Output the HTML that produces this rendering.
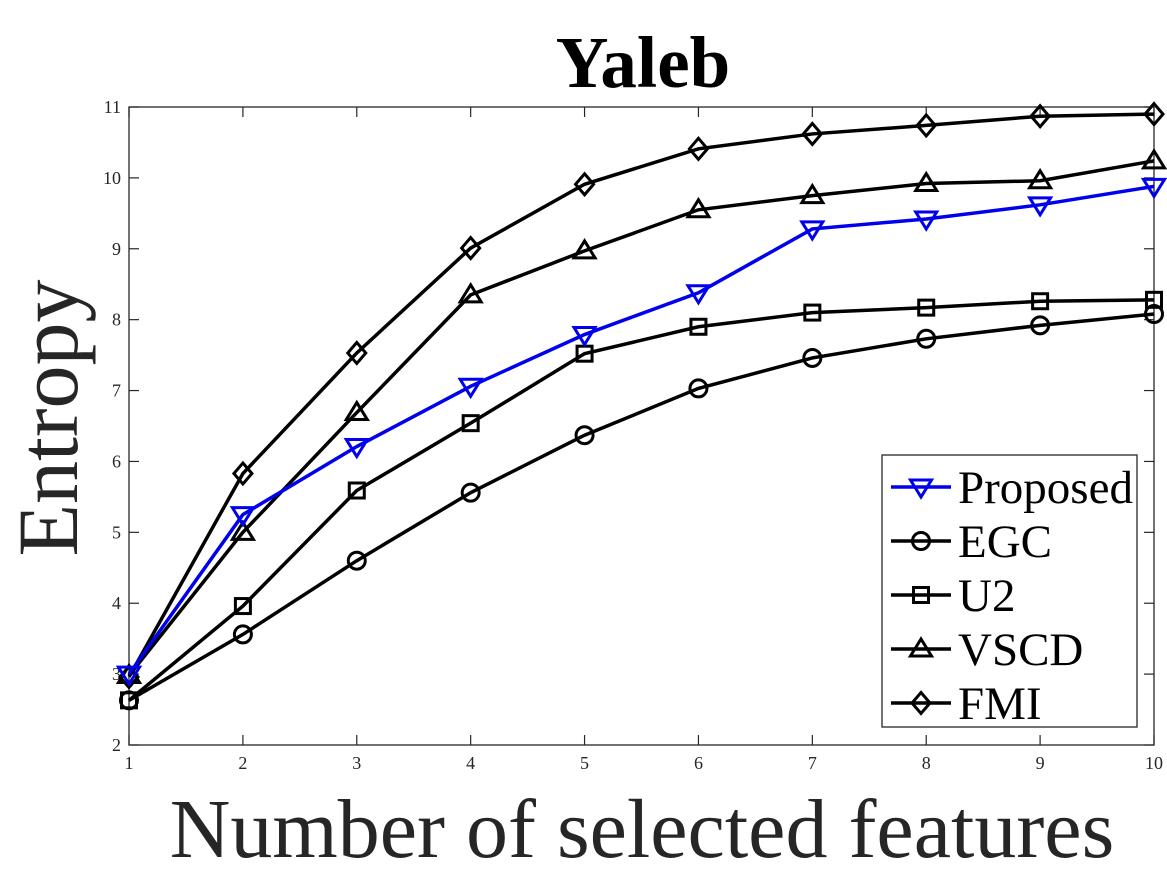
<!DOCTYPE html>
<html><head><meta charset="utf-8"><style>
body{margin:0;background:#fff;}
svg{display:block;font-family:"Liberation Serif",serif;}
</style></head><body>
<svg id="chart" width="1167" height="875" viewBox="0 0 1167 875" xmlns="http://www.w3.org/2000/svg">
<rect width="1167" height="875" fill="#fff"/>
<text x="643" y="87" text-anchor="middle" font-size="73" font-weight="bold">Yaleb</text>
<text transform="translate(77,418) rotate(-90)" text-anchor="middle" font-size="86" fill="#262626">Entropy</text>
<text x="642" y="857" text-anchor="middle" font-size="84" fill="#262626">Number of selected features</text>
<g id="axes"></g>
<g id="series"></g>
<g id="legend"></g>
</svg>
<script>
const categories=[1,2,3,4,5,6,7,8,9,10];
const yTicks=[2,3,4,5,6,7,8,9,10,11];
const seriesNames=["Proposed","EGC","U2","VSCD","FMI"];
const proposed=[3.0,5.25,6.21,7.06,7.79,8.38,9.28,9.42,9.62,9.88];
const egc=[2.63,3.56,4.6,5.56,6.37,7.03,7.46,7.73,7.92,8.08];
const u2=[2.63,3.96,5.59,6.54,7.52,7.9,8.1,8.17,8.26,8.28];
const vscd=[2.98,5.0,6.69,8.35,8.97,9.55,9.75,9.92,9.96,10.24];
const fmi=[2.96,5.83,7.53,9.01,9.91,10.41,10.62,10.74,10.87,10.9];
const L=129,R=1154,T=107,B=745;
const xS=v=>L+(v-1)/9*(R-L);
const yS=v=>B-(v-2)/9*(B-T);
const NS="http://www.w3.org/2000/svg";
function mk(tag,attrs,parent){const e=document.createElementNS(NS,tag);for(const k in attrs)e.setAttribute(k,attrs[k]);parent.appendChild(e);return e;}
const axes=document.getElementById('axes');
const frame=mk('rect',{x:L,y:T,width:R-L,height:B-T,fill:'none',stroke:'#262626','stroke-width':1.3},axes);


categories.forEach(c=>{
  const x=xS(c);
  mk('line',{x1:x,y1:B,x2:x,y2:B-10,stroke:'#262626','stroke-width':1.2},axes);
  mk('line',{x1:x,y1:T,x2:x,y2:T+10,stroke:'#262626','stroke-width':1.2},axes);
  const t=mk('text',{x:x,y:B+24,'text-anchor':'middle','font-size':18,fill:'#262626'},axes);
  t.textContent=c;
  
  
});
yTicks.forEach(v=>{
  const y=yS(v);
  mk('line',{x1:L,y1:y,x2:L+10,y2:y,stroke:'#262626','stroke-width':1.2},axes);
  mk('line',{x1:R,y1:y,x2:R-10,y2:y,stroke:'#262626','stroke-width':1.2},axes);
  const t=mk('text',{x:L-8,y:y+6,'text-anchor':'end','font-size':18,fill:'#262626'},axes);
  t.textContent=v;
  
  
});
function marker(type,cx,cy,color,parent){
  const st={fill:'none',stroke:color,'stroke-width':3};
  let e;
  if(type==='circle'){e=mk('circle',Object.assign({cx:cx,cy:cy,r:8.5},st),parent);}
  else if(type==='square'){e=mk('rect',Object.assign({x:cx-7.5,y:cy-7.5,width:15,height:15},st),parent);}
  else if(type==='tri'){e=mk('polygon',Object.assign({points:`${cx},${cy-10} ${cx-10.5},${cy+7} ${cx+10.5},${cy+7}`},st),parent);}
  else if(type==='dtri'){e=mk('polygon',Object.assign({points:`${cx},${cy+10} ${cx-10.5},${cy-7} ${cx+10.5},${cy-7}`},st),parent);}
  else {e=mk('polygon',Object.assign({points:`${cx},${cy-10.5} ${cx+9},${cy} ${cx},${cy+10.5} ${cx-9},${cy}`},st),parent);}
  return e;
}
const defs=[[fmi,'diamond','#000','fmi'],[vscd,'tri','#000','vscd'],[u2,'square','#000','u2'],[egc,'circle','#000','egc'],[proposed,'dtri','#0000ee','proposed']];
const sg=document.getElementById('series');
defs.forEach(([d,m,c,n])=>{
  const g=mk('g',{},sg);
  
  
  const pts=d.map((v,i)=>xS(categories[i])+','+yS(v)).join(' ');
  const pl=mk('polyline',{points:pts,fill:'none',stroke:c,'stroke-width':3.5},g);
  
  
  d.forEach((v,i)=>{
    const mm=marker(m,xS(categories[i]),yS(v),c,g);
    
    
  });
});
const lg=document.getElementById('legend');


mk('rect',{x:882,y:455,width:255,height:272,fill:'#fff',stroke:'#262626','stroke-width':1.3},lg);
const lm=['dtri','circle','square','tri','diamond'];
const lc=['#0000ee','#000','#000','#000','#000'];
seriesNames.forEach((n,i)=>{
  const y=487+i*54;
  const g=mk('g',{},lg);
  
  
  mk('line',{x1:891,y1:y,x2:951,y2:y,stroke:lc[i],'stroke-width':3.5},g);
  marker(lm[i],921,y,lc[i],g);
  const t=mk('text',{x:958,y:y+16,'font-size':47,fill:'#000'},g);
  t.textContent=n;
});
</script>
</body></html>
